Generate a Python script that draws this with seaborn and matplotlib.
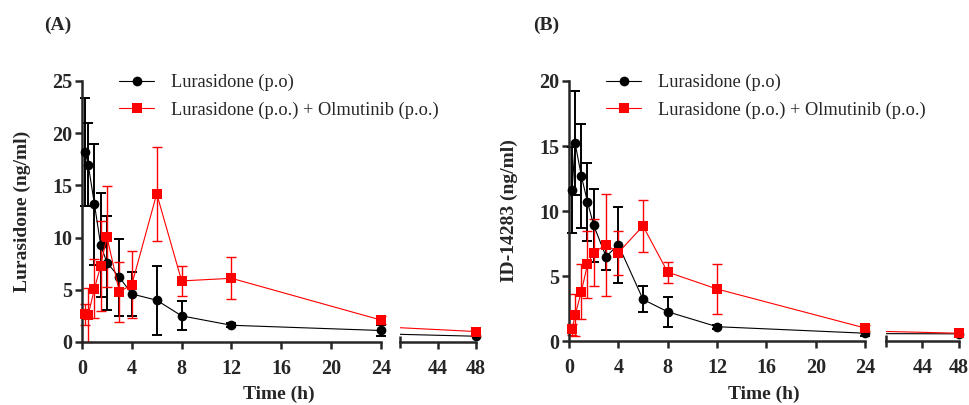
import numpy as np
import pandas as pd
import matplotlib
matplotlib.use('Agg')
import matplotlib.pyplot as plt
import seaborn as sns

# sampling times (h)
time_h = [0.25, 0.5, 1, 1.5, 2, 3, 4, 6, 8, 12, 24, 48]

# Panel A: lurasidone
a_luras_mean = [18.2, 17.0, 13.2, 9.3, 7.6, 6.2, 4.6, 4.0, 2.5, 1.6, 1.1, 0.55]
a_luras_sd = [5.2, 4.0, 5.8, 5.0, 4.5, 3.7, 2.1, 3.3, 1.4, 0.2, 0.5, 0.2]
a_combo_mean = [2.65, 2.6, 5.1, 7.3, 10.1, 4.8, 5.5, 14.2, 5.85, 6.1, 2.1, 1.0]
a_combo_sd = [1.0, 2.6, 2.85, 4.3, 4.8, 2.9, 3.2, 4.5, 1.4, 2.0, 0.4, 0.2]

# Panel B: ID-14283
b_luras_mean = [11.6, 15.2, 12.7, 10.7, 8.9, 6.5, 7.4, 3.2, 2.25, 1.1, 0.6, 0.55]
b_luras_sd = [3.3, 4.0, 4.0, 3.0, 2.8, 1.0, 2.9, 1.0, 1.15, 0.15, 0.2, 0.1]
b_combo_mean = [0.9, 2.0, 3.8, 5.9, 6.8, 7.4, 6.8, 8.85, 5.3, 4.0, 1.0, 0.6]
b_combo_sd = [0.4, 1.6, 2.1, 2.6, 2.6, 3.9, 1.7, 2.0, 0.8, 1.9, 0.2, 0.1]

series_names = ["Lurasidone (p.o)", "Lurasidone (p.o.) + Olmutinib (p.o.)"]
colors = {series_names[0]: "black", series_names[1]: "#ff0000"}
markers = {series_names[0]: "o", series_names[1]: "s"}


def make_df(m1, s1, m2, s2):
    rows = []
    for name, m, s in [(series_names[0], m1, s1), (series_names[1], m2, s2)]:
        for t, mv, sv in zip(time_h, m, s):
            rows.append({"Time": t, "Conc": mv, "SD": sv, "Group": name})
    return pd.DataFrame(rows)


sns.set_style("ticks")
plt.rcParams['font.family'] = ['Liberation Serif', 'DejaVu Serif']
plt.rcParams['font.weight'] = 'bold'

fig = plt.figure(figsize=(9.69, 4.05), dpi=100)


def draw_panel(df, rect1, rect2, ymax, ystep, ylabel, letter, letter_x):
    ax1 = fig.add_axes(rect1)
    ax2 = fig.add_axes(rect2, sharey=ax1)
    early = df[df["Time"] <= 24]
    late = df[df["Time"] >= 24]
    for name in series_names:
        sub = early[early["Group"] == name]
        lw_e = 1.4 if name == series_names[0] else 1.0
        ax1.errorbar(sub["Time"], sub["Conc"], yerr=sub["SD"], fmt="none",
                     ecolor=colors[name], elinewidth=lw_e, capsize=3.5,
                     capthick=lw_e, clip_on=False, zorder=2)
    sns.lineplot(data=early, x="Time", y="Conc", hue="Group", style="Group",
                 palette=colors, markers=markers, dashes=False, linewidth=0.8,
                 markersize=7, markeredgewidth=0, ax=ax1, clip_on=False, zorder=3)
    sns.lineplot(data=late, x="Time", y="Conc", hue="Group", palette=colors,
                 linewidth=0.8, ax=ax2, legend=False, zorder=3)
    last = late[late["Time"] == 48]
    for name in series_names:
        sub = last[last["Group"] == name]
        ax2.errorbar(sub["Time"], sub["Conc"], yerr=sub["SD"], fmt=markers[name],
                     color=colors[name], markersize=7, markeredgewidth=0,
                     capsize=3, clip_on=False, zorder=4)

    ax1.set_xlim(0, 24)
    ax1.set_ylim(0, ymax)
    ax1.set_xticks(np.arange(0, 25, 4))
    ax1.set_yticks(np.arange(0, ymax + 1, ystep))
    ax2.set_xlim(40, 48)
    ax2.set_xticks([44, 48])
    ax2.set_xticks([40], minor=True)

    for ax in (ax1, ax2):
        sns.despine(ax=ax)
        ax.spines['bottom'].set_linewidth(1.8)
        ax.spines['left'].set_linewidth(1.8)
        ax.tick_params(axis='both', width=1.8, length=5, labelsize=14.5, pad=2)
        ax.tick_params(axis='x', pad=7)
        for lab in ax.get_xticklabels() + ax.get_yticklabels():
            lab.set_fontweight('bold')
        ax.set_xlabel("")
        ax.set_ylabel("")
        ax.patch.set_alpha(0)
    ax2.spines['left'].set_visible(False)
    ax2.tick_params(axis='y', left=False, labelleft=False)
    ax2.tick_params(axis='x', which='minor', direction='inout', length=9, width=1.8)

    ax1.set_ylabel(ylabel, fontsize=14, fontweight='bold', labelpad=15)
    # centre the x label over the whole broken axis
    xc = (rect1[0] + rect2[0] + rect2[2]) / 2
    fig.text(xc, 0.027, "Time (h)", ha='center', va='center', fontsize=14,
             fontweight='bold')
    fig.text(letter_x, 0.938, letter, ha='left', va='center', fontsize=14,
             fontweight='bold')

    handles, labels = ax1.get_legend_handles_labels()
    ax1.legend(handles, labels, loc='upper left', bbox_to_anchor=(0.07, 1.09),
               frameon=False, handlelength=1.9, handletextpad=0.9,
               labelspacing=0.55, prop={'family': 'Liberation Serif',
                                        'weight': 'normal', 'size': 13.2})
    return ax1, ax2


df_a = make_df(a_luras_mean, a_luras_sd, a_combo_mean, a_combo_sd)
df_b = make_df(b_luras_mean, b_luras_sd, b_combo_mean, b_combo_sd)

draw_panel(df_a, [0.0846, 0.1556, 0.3086, 0.6444], [0.4128, 0.1556, 0.0784, 0.6444],
           25, 5, "Lurasidone (ng/ml)", "(A)", 0.046)
draw_panel(df_b, [0.5872, 0.158, 0.3055, 0.642], [0.9143, 0.158, 0.0753, 0.642],
           20, 5, "ID-14283 (ng/ml)", "(B)", 0.55)

fig.savefig("out.png", dpi=100)
